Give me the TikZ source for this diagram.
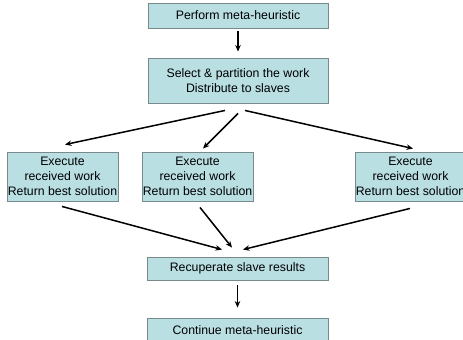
\documentclass[tikz,border=0pt]{standalone}
\usepackage{fontspec}
\setmainfont{Liberation Sans}
\usetikzlibrary{arrows.meta,calc}
\definecolor{boxfill}{RGB}{185,223,227}
\definecolor{boxline}{RGB}{120,138,140}
\begin{document}
\begin{tikzpicture}[x=1bp,y=-1bp,
  box/.style={draw=boxline,fill=boxfill,line width=0.9bp,inner sep=0pt,align=center,
    font=\fontsize{12.3bp}{14.8bp}\selectfont},
  arr/.style={-{Stealth[length=6.5bp,width=5.5bp]},line width=1.5bp,black}]
\useasboundingbox (0,0) rectangle (463,339);
\clip (0,0) rectangle (463,339);
\node[box,minimum width=180bp,minimum height=25bp] (b1) at (238,15.5) {Perform meta-heuristic};
\node[box,minimum width=180bp,minimum height=45bp] (b2) at (238,80.5) {Select \& partition the work\\Distribute to slaves};
\node[box,minimum width=111bp,minimum height=49bp] (s1) at (62.5,176.5) {Execute\\received work\\Return best solution};
\node[box,minimum width=111bp,minimum height=49bp] (s2) at (197.5,176.5) {Execute\\received work\\Return best solution};
\node[box,minimum width=111bp,minimum height=49bp] (s3) at (410.5,176.5) {Execute\\received work\\Return best solution};
\node[box,minimum width=181bp,minimum height=23bp] (r) at (237.5,268.5) {Recuperate slave results};
\node[box,minimum width=181bp,minimum height=24bp] (c) at (237.5,330) {Continue meta-heuristic};
\draw[arr] ($(b1.south)+(0,3)$) -- ($(b2.north)+(0,-6)$);
\draw[arr] ($(b2.south)+(-13,7)$) -- ($(s1.north)+(2.5,-7)$);
\draw[arr] ($(b2.south)+(0,10)$) -- ($(s2.north)+(5.5,-3)$);
\draw[arr] ($(b2.south)+(7,7)$) -- ($(s3.north)+(2.5,-3)$);
\draw[arr] ($(s1.south)+(-0.5,5)$) -- ($(r.north)+(-15.5,-7)$);
\draw[arr] ($(s2.south)+(2.5,6)$) -- ($(r.north)+(-5.5,-9)$);
\draw[arr] ($(s3.south)+(-0.5,7)$) -- ($(r.north)+(5.5,-7)$);
\draw[arr] ($(r.south)+(0,5)$) -- ($(c.north)+(0,-10)$);
\end{tikzpicture}
\end{document}
